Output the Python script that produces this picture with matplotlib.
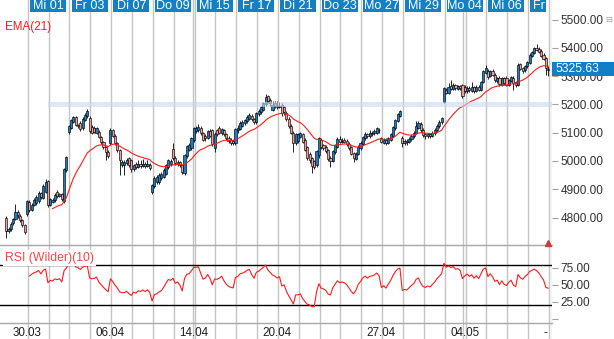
import numpy as np
import matplotlib
matplotlib.use("Agg")
import matplotlib.pyplot as plt
from matplotlib.patches import Rectangle
from matplotlib.lines import Line2D
from matplotlib.transforms import blended_transform_factory

plt.rcParams["font.family"] = ["Liberation Sans", "DejaVu Sans"]

W, H = 614, 339
BARS_PER_DAY = 9

# hourly candles, 30.03 - 08.05 (one row per trading day)
opens = [
    4800, 4752, 4758, 4780, 4795, 4820, 4806, 4790, 4772,
    4812, 4856, 4828, 4846, 4852, 4857, 4886, 4870, 4892,
    4929, 4846, 4855, 4862, 4890, 4876, 4882, 4858, 4968,
    5102, 5117, 5138, 5155, 5127, 5135, 5115, 5145, 5158,
    5152, 5120, 5117, 5100, 5102, 5085, 5067, 5049, 5032,
    5065, 5108, 5090, 5063, 5039, 4986, 4986, 4992, 5010,
    5003, 4972, 4988, 4980, 4990, 4984, 4990, 4982, 4986,
    4890, 4910, 4925, 4925, 4940, 4945, 4955, 4978, 4988,
    5042, 5010, 4988, 4995, 4986, 4958, 5017, 5040, 5046,
    5075, 5105, 5110, 5118, 5098, 5090, 5082, 5105, 5110,
    5045, 5109, 5118, 5098, 5110, 5095, 5082, 5075, 5072,
    5063, 5110, 5113, 5125, 5133, 5140, 5150, 5160, 5148,
    5138, 5165, 5172, 5180, 5200, 5228, 5215, 5180, 5205,
    5195, 5190, 5198, 5190, 5170, 5150, 5125, 5100, 5065,
    5070, 5085, 5095, 5074, 5050, 5025, 5010, 5000, 4985,
    5020, 5075, 5055, 5050, 5040, 5010, 5000, 5030, 5050,
    5078, 5068, 5075, 5070, 5060, 5048, 5028, 5008, 5025,
    5045, 5060, 5080, 5095, 5088, 5095, 5098, 5100, 5110,
    5080, 5065, 5075, 5065, 5075, 5090, 5115, 5140, 5160,
    5082, 5064, 5072, 5068, 5078, 5088, 5100, 5118, 5130,
    5110, 5095, 5088, 5095, 5090, 5098, 5108, 5122, 5136,
    5208, 5252, 5242, 5266, 5255, 5268, 5256, 5265, 5268,
    5262, 5246, 5258, 5248, 5260, 5248, 5262, 5250, 5280,
    5311, 5318, 5300, 5318, 5305, 5282, 5295, 5270, 5292,
    5295, 5270, 5283, 5295, 5280, 5268, 5343, 5328, 5320,
    5336, 5346, 5372, 5382, 5400, 5396, 5390, 5375, 5364,
    5320,
]
highs = [
    4805, 4768, 4784, 4800, 4848, 4826, 4812, 4795, 4776,
    4862, 4862, 4852, 4868, 4880, 4894, 4892, 4918, 4938,
    4934, 4870, 4868, 4886, 4896, 4888, 4888, 4976, 5016,
    5128, 5150, 5160, 5160, 5132, 5140, 5155, 5168, 5184,
    5158, 5126, 5122, 5120, 5108, 5090, 5072, 5054, 5038,
    5116, 5114, 5095, 5068, 5044, 5002, 5004, 5012, 5015,
    5008, 4990, 4995, 5005, 5002, 5006, 4998, 5004, 4992,
    4920, 4946, 4950, 4958, 4962, 4974, 4990, 5008, 5006,
    5062, 5016, 5004, 5000, 4990, 5024, 5058, 5062, 5085,
    5120, 5125, 5130, 5124, 5104, 5094, 5110, 5112, 5114,
    5102, 5114, 5124, 5118, 5114, 5100, 5088, 5080, 5076,
    5118, 5126, 5140, 5146, 5150, 5162, 5170, 5166, 5152,
    5174, 5184, 5196, 5210, 5236, 5232, 5222, 5212, 5212,
    5212, 5208, 5204, 5196, 5176, 5156, 5130, 5106, 5100,
    5100, 5104, 5100, 5080, 5054, 5030, 5015, 5005, 5040,
    5086, 5080, 5060, 5056, 5044, 5016, 5040, 5060, 5084,
    5088, 5080, 5082, 5076, 5066, 5052, 5032, 5030, 5056,
    5070, 5090, 5104, 5100, 5108, 5106, 5112, 5120, 5118,
    5086, 5080, 5080, 5084, 5100, 5124, 5150, 5170, 5180,
    5088, 5076, 5078, 5084, 5096, 5106, 5140, 5142, 5136,
    5116, 5100, 5100, 5100, 5106, 5116, 5130, 5144, 5156,
    5262, 5258, 5276, 5286, 5274, 5272, 5270, 5270, 5272,
    5268, 5264, 5266, 5278, 5266, 5268, 5270, 5284, 5322,
    5339, 5324, 5322, 5324, 5310, 5298, 5300, 5298, 5296,
    5300, 5290, 5302, 5300, 5284, 5346, 5348, 5332, 5340,
    5354, 5380, 5390, 5404, 5414, 5402, 5396, 5380, 5368,
    5336,
]
lows = [
    4728, 4745, 4752, 4774, 4790, 4800, 4784, 4765, 4742,
    4806, 4820, 4822, 4840, 4846, 4850, 4866, 4866, 4886,
    4838, 4840, 4850, 4856, 4870, 4872, 4860, 4852, 4962,
    5096, 5112, 5134, 5122, 5116, 5106, 5110, 5140, 5152,
    5100, 5094, 5098, 5096, 5080, 5060, 5044, 5003, 5010,
    5058, 5084, 5058, 5030, 4950, 4980, 4950, 4986, 4978,
    4962, 4966, 4972, 4974, 4976, 4978, 4974, 4978, 4968,
    4882, 4905, 4918, 4920, 4934, 4940, 4950, 4972, 4982,
    5005, 4986, 4982, 4980, 4955, 4952, 5012, 5036, 5040,
    5068, 5100, 5104, 5092, 5070, 5072, 5078, 5084, 5052,
    5032, 5088, 5094, 5092, 5090, 5074, 5064, 5058, 5055,
    5058, 5100, 5108, 5120, 5128, 5134, 5144, 5142, 5130,
    5132, 5160, 5166, 5176, 5196, 5206, 5196, 5176, 5188,
    5184, 5186, 5160, 5164, 5140, 5118, 5094, 5030, 5058,
    5062, 5080, 5062, 5034, 5005, 4994, 4958, 4970, 4980,
    5012, 5044, 5040, 5028, 5000, 4978, 4996, 5026, 5046,
    5062, 5062, 5062, 5054, 5040, 5020, 4995, 5002, 5020,
    5040, 5055, 5075, 5082, 5082, 5090, 5092, 5096, 5100,
    5062, 5060, 5058, 5060, 5070, 5086, 5110, 5136, 5155,
    5050, 5058, 5058, 5062, 5072, 5082, 5094, 5112, 5104,
    5086, 5078, 5082, 5080, 5084, 5092, 5104, 5118, 5132,
    5204, 5236, 5238, 5250, 5250, 5252, 5252, 5252, 5222,
    5240, 5242, 5244, 5244, 5240, 5244, 5246, 5246, 5276,
    5306, 5290, 5296, 5300, 5278, 5276, 5266, 5266, 5270,
    5264, 5265, 5278, 5252, 5262, 5264, 5320, 5312, 5316,
    5330, 5342, 5368, 5378, 5388, 5380, 5366, 5356, 5304,
    5300,
]
closes = [
    4752, 4760, 4778, 4795, 4820, 4808, 4790, 4772, 4748,
    4858, 4826, 4846, 4862, 4872, 4888, 4872, 4912, 4926,
    4846, 4866, 4862, 4880, 4876, 4882, 4866, 4972, 5014,
    5123, 5145, 5155, 5127, 5122, 5112, 5150, 5162, 5177,
    5105, 5099, 5103, 5115, 5085, 5067, 5049, 5032, 5016,
    5110, 5090, 5063, 5039, 5003, 4996, 4996, 5003, 4985,
    4970, 4985, 4978, 4988, 4984, 4990, 4982, 4988, 4975,
    4915, 4940, 4943, 4950, 4955, 4968, 4985, 5003, 5000,
    5010, 4992, 4998, 4986, 4962, 5020, 5052, 5055, 5080,
    5115, 5117, 5120, 5098, 5075, 5082, 5105, 5090, 5060,
    5095, 5094, 5100, 5112, 5095, 5080, 5070, 5065, 5063,
    5112, 5116, 5134, 5138, 5145, 5156, 5162, 5148, 5138,
    5170, 5177, 5191, 5205, 5225, 5212, 5205, 5198, 5195,
    5190, 5195, 5168, 5172, 5148, 5125, 5100, 5063, 5095,
    5095, 5098, 5068, 5040, 5012, 5003, 4982, 4980, 5035,
    5080, 5050, 5045, 5035, 5008, 5000, 5035, 5055, 5078,
    5068, 5072, 5068, 5060, 5045, 5025, 5012, 5025, 5050,
    5065, 5085, 5095, 5088, 5098, 5100, 5105, 5115, 5108,
    5068, 5075, 5065, 5080, 5095, 5120, 5145, 5165, 5175,
    5064, 5070, 5066, 5078, 5090, 5100, 5125, 5134, 5110,
    5092, 5088, 5094, 5090, 5100, 5110, 5125, 5138, 5152,
    5258, 5242, 5262, 5255, 5268, 5258, 5264, 5258, 5228,
    5246, 5258, 5250, 5260, 5248, 5262, 5252, 5280, 5318,
    5328, 5296, 5318, 5305, 5285, 5292, 5272, 5292, 5275,
    5270, 5285, 5296, 5275, 5268, 5340, 5325, 5318, 5336,
    5350, 5375, 5385, 5398, 5392, 5385, 5372, 5362, 5330,
    5325.63,
]

# top date bar: day number (0 = 30.03) and tag
tag_days = [2, 4, 6, 8, 10, 12, 14, 16, 18, 20, 22, 24, 26]
tag_text = ["Mi 01", "Fr 03", "Di 07", "Do 09", "Mi 15", "Fr 17", "Di 21",
            "Do 23", "Mo 27", "Mi 29", "Mo 04", "Mi 06", "Fr"]
# bottom date axis
date_pos = [9, 45, 81, 117, 162, 198, 233]
date_text = ["30.03", "06.04", "14.04", "20.04", "27.04", "04.05", "-"]
holiday_days = [9, 22]  # first day after Easter / 1 May

price_ticks = [4800, 4900, 5000, 5100, 5200, 5300, 5400, 5500]
rsi_ticks = [0, 25, 50, 75]
rsi_tick_text = ["", "25.00", "50.00", "75.00"]

BLUE = "#1a7ec4"
PINK = "#f39a9a"
GRID = "#c4c4c4"
TAG_BLUE = "#1380c4"


def ema(values, n):
    out = np.full(len(values), np.nan)
    out[n - 1] = values[:n].mean()
    k = 2.0 / (n + 1)
    for i in range(n, len(values)):
        out[i] = values[i] * k + out[i - 1] * (1 - k)
    return out


def rsi_wilder(values, n):
    d = np.diff(values)
    up = np.clip(d, 0, None)
    dn = np.clip(-d, 0, None)
    out = np.full(len(values), np.nan)
    au, ad = up[:n].mean(), dn[:n].mean()
    out[n] = 100 - 100 / (1 + au / ad)
    for i in range(n, len(d)):
        au = (au * (n - 1) + up[i]) / n
        ad = (ad * (n - 1) + dn[i]) / n
        out[i + 1] = 100 - 100 / (1 + au / ad)
    return out


def px_axes(fig, left, top, right, bottom):
    return fig.add_axes([left / W, 1 - bottom / H, (right - left) / W, (bottom - top) / H])


o = np.array(opens, float)
h = np.array(highs, float)
l = np.array(lows, float)
c = np.array(closes, float)
x = np.arange(len(c))
ema21 = ema(c, 21)
rsi10 = rsi_wilder(c, 10)

XLIM = (-2.68, 235.67)
PX_PER_BAR = 552 / (XLIM[1] - XLIM[0])

fig = plt.figure(figsize=(W / 100, H / 100), dpi=100)
fig.patch.set_facecolor("white")

# background layer with the day grid running through every panel
bg = px_axes(fig, 0, 0, 552, H)
bg.set_xlim(*XLIM)
bg.set_ylim(0, 1)
bg.axis("off")
n_days = len(c) // BARS_PER_DAY
for k in range(1, n_days + 1):
    if k in holiday_days:
        for off in (-0.55, 0.35):
            bg.axvline(k * BARS_PER_DAY + off, color=GRID, lw=1.0)
    else:
        bg.axvline(k * BARS_PER_DAY + 0.3, color=GRID, lw=1.0)
bg.axvline(XLIM[1] - 0.2, color=GRID, lw=1.0)

# price panel
ax = px_axes(fig, 0, 0, 552, 245)
ax.set_facecolor("none")
ax.set_xlim(*XLIM)
ax.set_ylim(4703, 5569)
for s in ax.spines.values():
    s.set_visible(False)
ax.set_xticks([])
ax.yaxis.tick_right()
ax.set_yticks(price_ticks)
ax.set_yticklabels([f"{v:.2f}" for v in price_ticks])
ax.tick_params(axis="y", length=4, width=0.8, color="#a0a0a0",
               labelcolor="#303030", labelsize=8.5, pad=2)

ax.vlines(x, l, h, color="black", lw=0.6, zorder=2)
up = c >= o
body_lo = np.minimum(o, c)
body_h = np.maximum(np.abs(c - o), 2.0)
ax.bar(x, body_h, bottom=body_lo, width=0.92,
       color=np.where(up, BLUE, PINK), edgecolor="black", linewidth=0.45, zorder=3)
ax.plot(x, ema21, color="#ff1a1a", lw=0.8, zorder=4)

# highlighted level
ax.axhspan(5191, 5209, xmin=48 / 552, xmax=1, color="#c9d8ef", alpha=0.6, lw=0, zorder=5)

fig.text(5 / W, 1 - 27 / H, "EMA(21)", color="#ff1a1a", fontsize=8.4, va="center")

# date tags along the top
tr = blended_transform_factory(ax.transData, ax.transAxes)
half = 18 / PX_PER_BAR
right_edge = (546 / PX_PER_BAR) + XLIM[0]
for d, t in zip(tag_days, tag_text):
    xc = d * BARS_PER_DAY
    x0 = xc - half
    x1 = min(xc + half, right_edge)
    ax.add_patch(Rectangle((x0, 1 - 11.5 / 245), x1 - x0, 11.5 / 245, transform=tr,
                           color=TAG_BLUE, lw=0, zorder=6, clip_on=False))
    if x1 < xc + half:
        ax.text(x0 + 1.3, 1 - 6 / 245, t, transform=tr, color="white", fontsize=9.1,
                ha="left", va="center", zorder=7)
    else:
        ax.text(xc, 1 - 6 / 245, t, transform=tr, color="white", fontsize=9.1,
                ha="center", va="center", zorder=7)

# last price marker on the axis (covers the 5300 label, as on the terminal)
last = c[-1]
ltr = blended_transform_factory(fig.transFigure, ax.transData)
box_h = 14 * (ax.get_ylim()[1] - ax.get_ylim()[0]) / 245
fig.patches.append(Rectangle((552 / W, last - box_h / 2), 62 / W, box_h, transform=ltr,
                             facecolor="#0f7fc8", edgecolor="none", zorder=8))
fig.text(556 / W, last, f"{last:.2f}", transform=ltr, color="white", fontsize=8.8,
         va="center", ha="left", zorder=9)
fig.text(609 / W, 1 - 20 / H, "\u229f", color="#a0a0a0", fontsize=6,
         family="DejaVu Sans", ha="center", va="center")

# RSI panel
rx = px_axes(fig, 0, 245, 552, 323)
rx.set_facecolor("none")
rx.set_xlim(*XLIM)
rx.set_ylim(-5.9, 108.8)
for s in rx.spines.values():
    s.set_visible(False)
rx.set_xticks([])
rx.yaxis.tick_right()
rx.set_yticks(rsi_ticks)
rx.set_yticklabels(rsi_tick_text)
rx.tick_params(axis="y", length=4, width=0.8, color="#a0a0a0",
               labelcolor="#303030", labelsize=8.5, pad=2)
rx.axhline(80, color="black", lw=1.0, zorder=2)
rx.axhline(20, color="black", lw=1.0, zorder=2)
rx.plot(x, rsi10, color="#ff1a1a", lw=0.8, zorder=3)
rx.text(5 / 552, 1 - 13 / 78, "RSI (Wilder)(10)", transform=rx.transAxes,
        color="#f04848", fontsize=8.8, va="center", ha="left", zorder=4,
        bbox=dict(fc="white", ec="none", pad=1.2))

# panel separators
for yy in (245, 323):
    fig.add_artist(Line2D([0, 552 / W], [1 - yy / H, 1 - yy / H], color="#a8a8a8", lw=1.0))

fig.add_artist(Line2D([548 / W], [1 - 243 / H], marker="^", ms=4, color="#c83c3c", lw=0))

# bottom date labels
btr = blended_transform_factory(bg.transData, fig.transFigure)
for p, t in zip(date_pos, date_text):
    bg.text(p, 1 - 333 / H, t, transform=btr, ha="center", va="center",
            fontsize=8.4, color="#202020")

fig.savefig("out.png", dpi=100, facecolor="white")
